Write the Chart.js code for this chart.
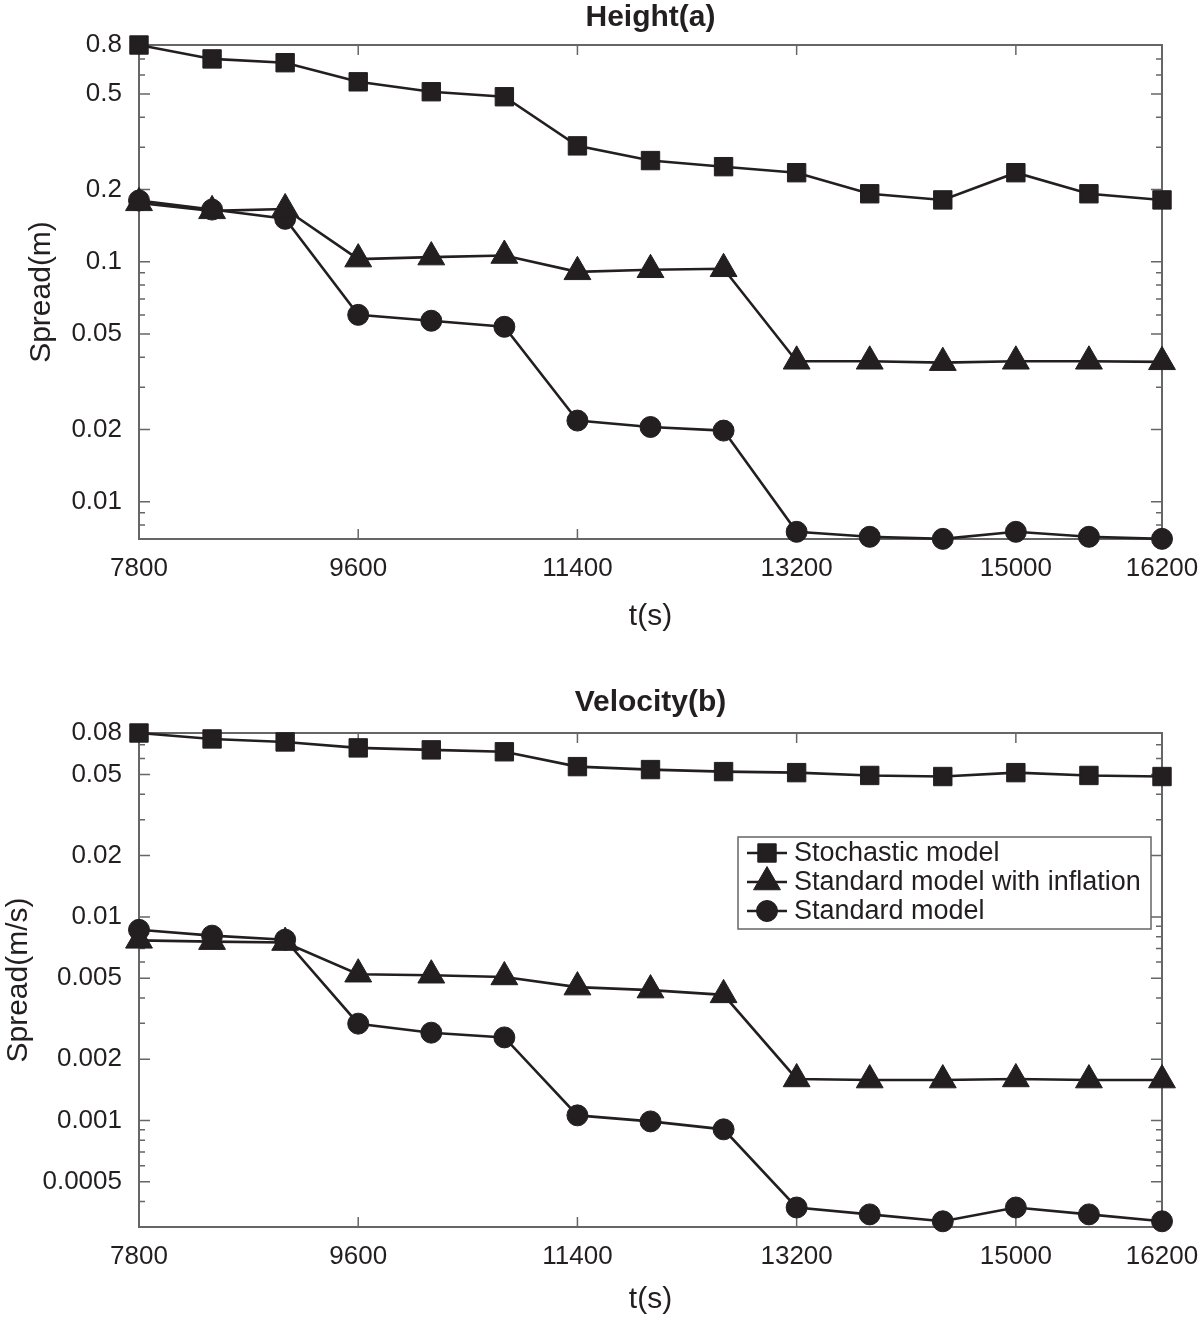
<!DOCTYPE html>
<html>
<head>
<meta charset="utf-8">
<title>Spread</title>
<script src="https://cdn.jsdelivr.net/npm/chart.js@4.4.1/dist/chart.umd.min.js"></script>
<style>
  html, body { margin: 0; padding: 0; background: #fff; }
  canvas { display: block; }
</style>
</head>
<body>
<canvas id="heightChart" width="1200" height="660"></canvas>
<canvas id="velocityChart" width="1200" height="661"></canvas>
<script>
// values
const times = [7800, 8400, 9000, 9600, 10200, 10800, 11400, 12000, 12600, 13200, 13800, 14400, 15000, 15600, 16200];
const xTicks = [7800, 9600, 11400, 13200, 15000, 16200];

const heightStochastic = [0.8, 0.70, 0.675, 0.562, 0.511, 0.487, 0.304, 0.264, 0.249, 0.235, 0.192, 0.181, 0.235, 0.192, 0.181];
const heightInflation = [0.176, 0.163, 0.166, 0.1026, 0.1046, 0.1062, 0.0908, 0.0926, 0.0935, 0.0385, 0.0385, 0.0380, 0.0385, 0.0385, 0.0383];
const heightStandard = [0.180, 0.165, 0.151, 0.0601, 0.0568, 0.0536, 0.0218, 0.0205, 0.0198, 0.0075, 0.00715, 0.00701, 0.0075, 0.00715, 0.00701];
const heightTicks = [0.01, 0.02, 0.05, 0.1, 0.2, 0.5, 0.8];

const velocityStochastic = [0.08, 0.0748, 0.0723, 0.0676, 0.0661, 0.0647, 0.0547, 0.0529, 0.0517, 0.0511, 0.0495, 0.0489, 0.0511, 0.0495, 0.0489];
const velocityInflation = [0.00767, 0.00756, 0.00748, 0.00523, 0.00517, 0.00507, 0.00452, 0.00437, 0.00414, 0.0016, 0.00158, 0.00158, 0.0016, 0.00158, 0.00158];
const velocityStandard = [0.00864, 0.00809, 0.00773, 0.00299, 0.0027, 0.00256, 0.00106, 0.00099, 0.000905, 0.000374, 0.000346, 0.00032, 0.000374, 0.000346, 0.00032];
const velocityTicks = [0.0005, 0.001, 0.002, 0.005, 0.01, 0.02, 0.05, 0.08];

const seriesNames = ['Stochastic model', 'Standard model with inflation', 'Standard model'];

const ink = '#231f20';
const axisColor = '#666666';
const fontFamily = "'Liberation Sans', Arial, Helvetica, sans-serif";

const markers = [
  { pointStyle: 'rect', radius: 13 },
  { pointStyle: 'triangle', radius: 15.5 },
  { pointStyle: 'circle', radius: 10.5 }
];

function makeDatasets(seriesList) {
  return seriesList.map((values, i) => ({
    label: seriesNames[i],
    data: times.map((t, j) => ({ x: t, y: values[j] })),
    borderColor: ink,
    borderWidth: 2.6,
    backgroundColor: ink,
    pointStyle: markers[i].pointStyle,
    pointRadius: markers[i].radius,
    pointBorderWidth: 1,
    pointBorderColor: ink,
    pointBackgroundColor: ink,
    tension: 0,
    clip: false
  }));
}

// 1..9 x 10^n ticks between min and max, for the minor marks
function logTicks(min, max) {
  const out = [];
  for (let e = Math.floor(Math.log10(min)); e <= Math.ceil(Math.log10(max)); e++) {
    for (let m = 1; m < 10; m++) {
      const v = Number((m * Math.pow(10, e)).toPrecision(6));
      if (v >= min * 0.9999 && v <= max * 1.0001) out.push(v);
    }
  }
  return out;
}

function findLabel(list, v) {
  const hit = list.find(t => Math.abs(t - v) / t < 1e-6);
  return hit === undefined ? '' : String(hit);
}

const frameTicks = {
  id: 'frameTicks',
  beforeDatasetsDraw(chart) {
    const { ctx, chartArea: a, scales: { x, y } } = chart;
    ctx.save();
    ctx.strokeStyle = axisColor;
    ctx.lineWidth = 1.5;
    ctx.beginPath();
    x.ticks.forEach(t => {
      const px = x.getPixelForValue(t.value);
      ctx.moveTo(px, a.bottom); ctx.lineTo(px, a.bottom - 10);
      ctx.moveTo(px, a.top); ctx.lineTo(px, a.top + 10);
    });
    y.ticks.forEach(t => {
      const py = y.getPixelForValue(t.value);
      const len = t.label ? 11 : 6;
      ctx.moveTo(a.left, py); ctx.lineTo(a.left + len, py);
      ctx.moveTo(a.right, py); ctx.lineTo(a.right - len, py);
    });
    ctx.stroke();
    ctx.lineWidth = 2;
    ctx.strokeRect(a.left, a.top, a.right - a.left, a.bottom - a.top);
    ctx.restore();
  }
};

function drawMarker(ctx, style, r, cx, cy) {
  ctx.beginPath();
  if (style === 'rect') {
    const s = Math.SQRT1_2 * r;
    ctx.rect(cx - s, cy - s, 2 * s, 2 * s);
  } else if (style === 'triangle') {
    for (let k = 0; k < 3; k++) {
      const ang = k * 2 * Math.PI / 3;
      const px = cx + Math.sin(ang) * r, py = cy - Math.cos(ang) * r;
      if (k === 0) ctx.moveTo(px, py); else ctx.lineTo(px, py);
    }
    ctx.closePath();
  } else {
    ctx.arc(cx, cy, r, 0, 2 * Math.PI);
  }
  ctx.fill();
  ctx.stroke();
}

const boxLegend = {
  id: 'boxLegend',
  afterDraw(chart, args, opts) {
    if (!opts || !opts.show) return;
    const { ctx, chartArea: a } = chart;
    const x0 = a.right - opts.right - opts.width;
    const y0 = a.top + opts.top;
    const n = chart.data.datasets.length;
    const h = opts.rowHeight * n + 5;
    ctx.save();
    ctx.fillStyle = '#fff';
    ctx.fillRect(x0, y0, opts.width, h);
    ctx.strokeStyle = axisColor;
    ctx.lineWidth = 1.5;
    ctx.strokeRect(x0, y0, opts.width, h);
    ctx.font = '27px ' + fontFamily;
    ctx.textBaseline = 'middle';
    chart.data.datasets.forEach((ds, i) => {
      const cy = y0 + 16 + i * opts.rowHeight;
      ctx.strokeStyle = ds.borderColor;
      ctx.lineWidth = ds.borderWidth;
      ctx.beginPath();
      ctx.moveTo(x0 + 9, cy); ctx.lineTo(x0 + 49, cy);
      ctx.stroke();
      ctx.fillStyle = ds.pointBackgroundColor;
      ctx.lineWidth = ds.pointBorderWidth;
      drawMarker(ctx, ds.pointStyle, ds.pointRadius, x0 + 29, cy);
      ctx.fillStyle = ink;
      ctx.fillText(ds.label, x0 + 56, cy + 1);
    });
    ctx.restore();
  }
};

function makeChart(id, cfg) {
  return new Chart(document.getElementById(id), {
    type: 'line',
    data: { datasets: makeDatasets(cfg.series) },
    options: {
      responsive: false,
      animation: false,
      events: [],
      layout: { padding: { left: 0, right: 38, top: 0, bottom: 0 } },
      plugins: {
        legend: { display: false },
        tooltip: { enabled: false },
        title: {
          display: true,
          fullSize: false,
          text: cfg.title,
          color: ink,
          font: { family: fontFamily, size: 30, weight: 'bold' },
          padding: cfg.titlePadding
        },
        boxLegend: cfg.legend
      },
      scales: {
        x: {
          type: 'linear',
          min: times[0],
          max: times[times.length - 1],
          afterBuildTicks: scale => { scale.ticks = xTicks.map(v => ({ value: v })); },
          afterFit: scale => {
            scale.height = cfg.xHeight;
            scale.paddingLeft = 0;
            scale.paddingRight = 0;
          },
          grid: { display: false },
          border: { display: false },
          ticks: {
            autoSkip: false,
            maxRotation: 0,
            padding: 6,
            color: ink,
            font: { family: fontFamily, size: 26 },
            callback: v => String(v)
          },
          title: {
            display: true,
            text: 't(s)',
            color: ink,
            font: { family: fontFamily, size: 30 },
            padding: { top: 0, bottom: cfg.xTitlePad }
          }
        },
        y: {
          type: 'logarithmic',
          min: cfg.yMin,
          max: cfg.yMax,
          afterBuildTicks: scale => { scale.ticks = logTicks(cfg.yMin, cfg.yMax).map(v => ({ value: v })); },
          afterFit: scale => { scale.width = 139; },
          grid: { display: false },
          border: { display: false },
          ticks: {
            autoSkip: false,
            padding: 9,
            color: ink,
            font: { family: fontFamily, size: 26 },
            callback: v => findLabel(cfg.yTicks, v)
          },
          title: {
            display: true,
            text: cfg.yTitle,
            color: ink,
            font: { family: fontFamily, size: 30 },
            padding: { top: cfg.yTitlePad, bottom: 0 }
          }
        }
      }
    },
    plugins: [frameTicks, boxLegend]
  });
}

makeChart('heightChart', {
  title: 'Height(a)',
  titlePadding: { top: 0, bottom: 9 },
  series: [heightStochastic, heightInflation, heightStandard],
  yMin: 0.007,
  yMax: 0.8,
  yTicks: heightTicks,
  yTitle: 'Spread(m)',
  yTitlePad: 24,
  xHeight: 121,
  xTitlePad: 25,
  legend: { show: false }
});

makeChart('velocityChart', {
  title: 'Velocity(b)',
  titlePadding: { top: 25, bottom: 12 },
  series: [velocityStochastic, velocityInflation, velocityStandard],
  yMin: 0.00032,
  yMax: 0.08,
  yTicks: velocityTicks,
  yTitle: 'Spread(m/s)',
  yTitlePad: 1,
  xHeight: 94,
  xTitlePad: 3,
  legend: { show: true, right: 11, top: 104, width: 413, rowHeight: 29 }
});
</script>
</body>
</html>
